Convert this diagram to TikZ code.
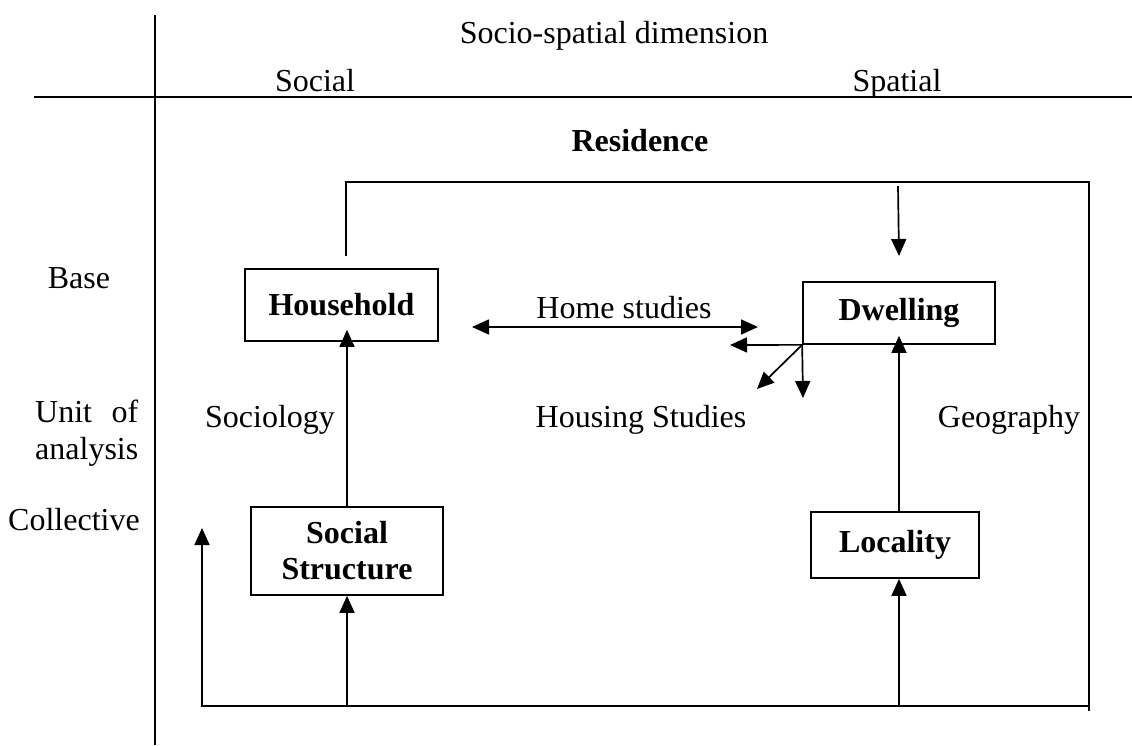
\documentclass[tikz,border=0pt]{standalone}
\usepackage{fontspec}
\setmainfont{Liberation Serif}
\usetikzlibrary{arrows.meta}
\begin{document}
\begin{tikzpicture}[x=1pt,y=-1pt,
  every node/.style={font=\fontsize{32}{37}\selectfont, inner sep=0pt},
  lbl/.style={anchor=base},
  boxnode/.style={draw, line width=1.7pt, font=\fontsize{32}{36}\selectfont\bfseries, align=center},
  ln/.style={line width=1.7pt},
  arr/.style={line width=1.7pt, -{Triangle[length=17pt,width=15pt]}},
  darr/.style={line width=1.7pt, {Triangle[length=17pt,width=15pt]}-{Triangle[length=17pt,width=15pt]}}
]
\useasboundingbox (0,0) rectangle (1132,746);
\fill[white] (0,0) rectangle (1132,746);

% axes
\coordinate (vT) at (155,15);
\coordinate (vB) at (155,745);
\coordinate (hL) at (34,97);
\coordinate (hR) at (1132,97);
\draw[ln] (vT) -- (vB);
\draw[line width=2.2pt] (hL) -- (hR);

% header texts
\node[lbl] (socsp) at (614,44) {Socio-spatial dimension};
\node[lbl] (social) at (315,92) {Social};
\node[lbl] (spatial) at (897,92) {Spatial};
\node[lbl, font=\fontsize{32}{37}\selectfont\bfseries] (residence) at (640,152) {Residence};

% row labels
\node[lbl] (base) at (79,288) {Base};
\node[anchor=base west] (unit) at (35,422) {\setbox0\hbox{analysis}\parbox[t]{\wd0}{\baselineskip=37pt Unit\hfill of\\analysis}};
\node[lbl] (collective) at (74,530) {Collective};

% field labels
\node[lbl] (sociology) at (270,427) {Sociology};
\node[lbl] (housing) at (641,427) {Housing Studies};
\node[lbl] (geography) at (1009,427) {Geography};
\node[lbl] (home) at (624,318) {Home studies};

% boxes
\node[boxnode, minimum width=193pt, minimum height=72pt] (hh) at (341.5,305) {Household};
\node[boxnode, minimum width=192pt, minimum height=62pt] (dw) at (899,313) {Dwelling};
\node[boxnode, minimum width=192pt, minimum height=88pt] (ss) at (347,551) {Social\\Structure};
\node[boxnode, minimum width=168pt, minimum height=66pt] (loc) at (895,545) {Locality};

% frame
\coordinate (fA) at (346,256);
\coordinate (fB) at (346,182);
\coordinate (fC) at (1089,182);
\coordinate (fD) at (1089,711);
\draw[ln] (fA) -- (fB) -- (fC) -- (fD);
\coordinate (bL) at (201,706);
\coordinate (bR) at (1089,706);
\draw[ln] (bL) -- (bR);

% arrow from top line down to dwelling
\coordinate (dTop) at (898,186);
\coordinate (dTip) at (899,256);
\draw[arr] (dTop) -- (dTip);

% home studies double arrow
\coordinate (hsL) at (472,327);
\coordinate (hsR) at (758,327);
\draw[darr] (hsL) -- (hsR);

% housing studies arrows from dwelling corner
\coordinate (hA) at (730,345);
\coordinate (hB) at (757,389);
\coordinate (hC) at (803,398);
\draw[arr] (dw.south west) -- (hA);
\draw[arr] (dw.south west) -- (hB);
\draw[arr] (dw.south west) -- (hC);

% vertical arrows
\draw[arr] (ss.north -| 347,0) -- ([yshift=12pt]hh.south -| 347,0);
\draw[arr] (loc.north -| 899,0) -- ([yshift=9pt]dw.south -| 899,0);
\coordinate (b1) at (347,706);
\coordinate (b2) at (899,706);
\coordinate (b3) at (202,706);
\coordinate (b3t) at (202,528);
\draw[arr] (b1) -- (ss.south -| b1);
\draw[arr] (b2) -- (loc.south -| b2);
\draw[arr] (b3) -- (b3t);
\end{tikzpicture}
\end{document}
